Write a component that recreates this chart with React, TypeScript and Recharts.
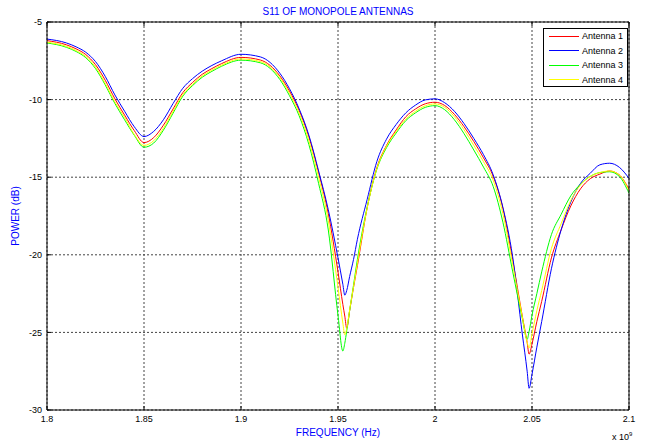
import { CartesianGrid, Legend, Line, LineChart, XAxis, YAxis } from 'recharts';

// frequency, in units of 10^9 Hz (the axis carries the "x 10^9" note)
const FREQ = [
  1.8, 1.81, 1.815, 1.82, 1.825, 1.83, 1.835, 1.84, 1.845, 1.85,
  1.855, 1.86, 1.865, 1.87, 1.875, 1.88, 1.885, 1.89, 1.9, 1.91,
  1.92, 1.925, 1.93, 1.935, 1.94, 1.945, 1.95, 1.9525, 1.9535, 1.9545,
  1.956, 1.958, 1.96, 1.965, 1.97, 1.975, 1.98, 1.985, 1.99, 1.995,
  2.0, 2.005, 2.01, 2.015, 2.02, 2.025, 2.03, 2.035, 2.04, 2.045,
  2.0475, 2.0485, 2.05, 2.0525, 2.055, 2.06, 2.065, 2.07, 2.075, 2.08,
  2.085, 2.09, 2.095, 2.1,
];

// S11 in dB
const ANTENNA_1 = [
  -6.2, -6.47, -6.73, -7.1, -7.75, -8.75, -9.95, -11.0, -12.0, -12.77,
  -12.45, -11.65, -10.6, -9.55, -8.9, -8.37, -8.0, -7.68, -7.28, -7.45,
  -8.47, -9.45, -10.7, -12.4, -14.7, -17.35, -21.1, -23.2, -23.95, -24.73,
  -23.6, -22.1, -20.7, -17.0, -14.4, -12.95, -11.95, -11.1, -10.6, -10.27,
  -10.17, -10.38, -10.95, -11.75, -12.7, -13.75, -14.95, -17.0, -20.3, -23.95,
  -25.65, -26.4, -25.75, -24.3, -23.0, -20.2, -18.4, -16.85, -15.75, -15.1,
  -14.8, -14.6, -14.85, -15.78,
];
const ANTENNA_2 = [
  -6.1, -6.35, -6.6, -6.95, -7.55, -8.5, -9.7, -10.75, -11.75, -12.38,
  -12.05, -11.3, -10.25, -9.27, -8.65, -8.17, -7.8, -7.5, -7.08, -7.25,
  -8.3, -9.3, -10.6, -12.3, -14.6, -17.1, -20.2, -21.9, -22.6, -22.3,
  -21.4, -20.3, -19.0, -16.45, -14.0, -12.55, -11.6, -10.85, -10.35, -10.02,
  -9.95, -10.2, -10.75, -11.55, -12.5, -13.55, -14.85, -16.95, -20.1, -25.1,
  -27.5, -28.6, -27.7, -25.95, -24.3, -20.9, -18.4, -16.6, -15.4, -14.75,
  -14.2, -14.1, -14.36, -15.07,
];
const ANTENNA_3 = [
  -6.35, -6.63, -6.9, -7.3, -8.0, -9.05, -10.25, -11.3, -12.3, -13.07,
  -12.8, -11.97, -10.87, -9.78, -9.1, -8.56, -8.18, -7.85, -7.46, -7.63,
  -8.7, -9.75, -11.05, -12.9, -15.4, -18.4, -23.9, -26.2, -25.7, -24.9,
  -23.6, -21.95, -20.3, -16.95, -14.5, -13.1, -12.15, -11.35, -10.85, -10.5,
  -10.39, -10.65, -11.3, -12.2, -13.25, -14.35, -15.6, -17.9, -21.05, -24.1,
  -25.45, -24.95, -23.9, -22.5, -21.1, -18.7, -17.4, -16.2, -15.45, -14.95,
  -14.7, -14.65, -14.95, -16.03,
];
const ANTENNA_4 = [
  -6.3, -6.57, -6.84, -7.22, -7.9, -8.95, -10.15, -11.15, -12.25, -12.95,
  -12.65, -11.85, -10.75, -9.68, -9.02, -8.48, -8.1, -7.78, -7.38, -7.55,
  -8.58, -9.6, -10.88, -12.65, -15.0, -17.8, -22.1, -24.4, -25.15, -24.75,
  -23.55, -22.05, -20.55, -17.0, -14.45, -13.0, -12.05, -11.25, -10.75, -10.4,
  -10.28, -10.5, -11.1, -11.95, -12.95, -14.0, -15.2, -17.35, -20.6, -24.0,
  -25.65, -26.0, -25.1, -23.6, -22.3, -19.6, -18.0, -16.5, -15.5, -14.95,
  -14.7, -14.6, -14.85, -15.85,
];

const X_TICKS = [1.8, 1.85, 1.9, 1.95, 2, 2.05, 2.1];
const Y_TICKS = [-30, -25, -20, -15, -10, -5];

const SERIES = [
  { key: 'a1', name: 'Antenna 1', color: '#ff0000' },
  { key: 'a2', name: 'Antenna 2', color: '#0000ff' },
  { key: 'a3', name: 'Antenna 3', color: '#00ff00' },
  { key: 'a4', name: 'Antenna 4', color: '#ffff00' },
];

const rows = FREQ.map((f, i) => ({
  f,
  a1: ANTENNA_1[i],
  a2: ANTENNA_2[i],
  a3: ANTENNA_3[i],
  a4: ANTENNA_4[i],
}));

const FONT = '"Liberation Sans", Arial, sans-serif';
const BLUE = '#0000ff';
const tickStyle = { fontSize: 9, fontFamily: FONT, fill: '#000' };

function LegendBox({ payload }: any) {
  return (
    <div
      style={{
        boxSizing: 'border-box',
        width: 85,
        height: 59,
        border: '1px solid #000',
        background: '#fff',
        fontFamily: FONT,
      }}
    >
      {(payload || []).map((p: any) => (
        <div key={p.value} style={{ display: 'flex', alignItems: 'center', height: 14.5 }}>
          <span style={{ width: 30, borderTop: `1px solid ${p.color}`, marginLeft: 5, marginRight: 3 }} />
          <span style={{ fontSize: 9, color: '#000', lineHeight: '10px' }}>{p.value}</span>
        </div>
      ))}
    </div>
  );
}

export default function App() {
  return (
    <div style={{ position: 'absolute', left: 0, top: 0, width: 645, height: 445, background: '#fff' }}>
      <LineChart width={645} height={445} data={rows} margin={{ top: 21, right: 15, bottom: 0, left: 0 }}>
        <CartesianGrid stroke="#444" strokeDasharray="2 2" />
        <XAxis
          dataKey="f"
          type="number"
          domain={[1.8, 2.1]}
          ticks={X_TICKS}
          interval={0}
          height={35}
          tickSize={-4}
          tickMargin={10}
          axisLine={{ stroke: '#000' }}
          tickLine={{ stroke: '#000' }}
          tick={tickStyle}
        />
        <XAxis
          xAxisId="top"
          orientation="top"
          dataKey="f"
          type="number"
          domain={[1.8, 2.1]}
          ticks={X_TICKS}
          interval={0}
          height={1}
          tickSize={-4}
          tickFormatter={() => ''}
          axisLine={{ stroke: '#000' }}
          tickLine={{ stroke: '#000' }}
        />
        <YAxis
          type="number"
          domain={[-30, -5]}
          ticks={Y_TICKS}
          interval={0}
          width={47}
          tickSize={-4}
          tickMargin={9}
          axisLine={{ stroke: '#000' }}
          tickLine={{ stroke: '#000' }}
          tick={tickStyle}
        />
        <YAxis
          yAxisId="right"
          orientation="right"
          type="number"
          domain={[-30, -5]}
          ticks={Y_TICKS}
          interval={0}
          width={1}
          tickSize={-4}
          tickFormatter={() => ''}
          axisLine={{ stroke: '#000' }}
          tickLine={{ stroke: '#000' }}
        />
        {SERIES.map((s) => (
          <Line
            key={s.key}
            dataKey={s.key}
            name={s.name}
            type="monotone"
            stroke={s.color}
            strokeWidth={1}
            dot={false}
            isAnimationActive={false}
          />
        ))}
        <Legend
          layout="vertical"
          align="center"
          verticalAlign="middle"
          content={<LegendBox />}
          wrapperStyle={{ left: 543, top: 28, width: 85, height: 59 }}
        />
      </LineChart>

      <div style={{ position: 'absolute', left: 47, top: 6, width: 582, textAlign: 'center', fontFamily: FONT, fontSize: 10, lineHeight: '12px', color: BLUE }}>
        S11 OF MONOPOLE ANTENNAS
      </div>
      <div style={{ position: 'absolute', left: 47, top: 427, width: 582, textAlign: 'center', fontFamily: FONT, fontSize: 10, lineHeight: '12px', color: BLUE }}>
        FREQUENCY (Hz)
      </div>
      <div
        style={{
          position: 'absolute',
          left: -34,
          top: 210,
          width: 100,
          textAlign: 'center',
          fontFamily: FONT,
          fontSize: 10,
          lineHeight: '12px',
          color: BLUE,
          transform: 'rotate(-90deg)',
        }}
      >
        POWER (dB)
      </div>
      <div style={{ position: 'absolute', left: 612, top: 432, fontFamily: FONT, fontSize: 9, lineHeight: '10px', color: '#000' }}>
        x 10<sup style={{ fontSize: 6, verticalAlign: 'top', position: 'relative', top: -3 }}>9</sup>
      </div>
    </div>
  );
}
